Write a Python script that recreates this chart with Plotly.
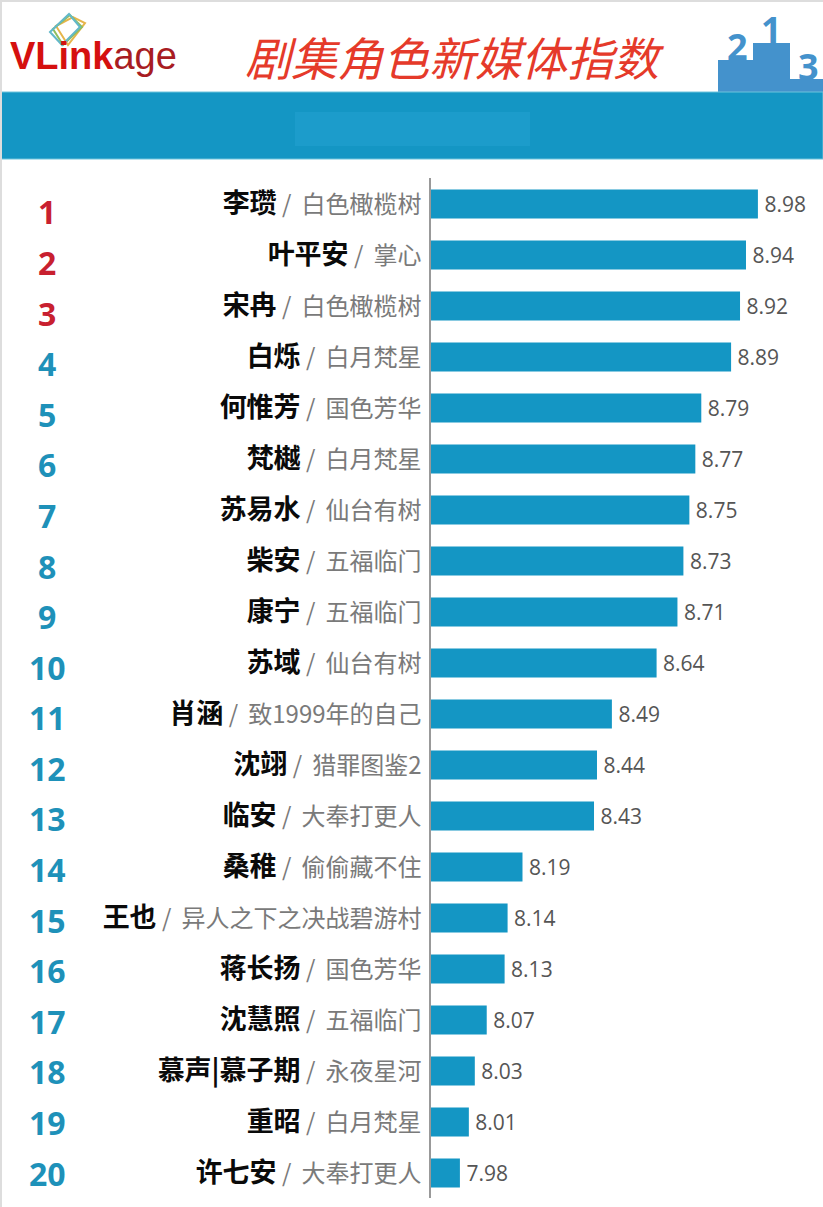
import plotly.graph_objects as go

names = ["李瓒","叶平安","宋冉","白烁","何惟芳","梵樾","苏易水","柴安","康宁","苏域",
         "肖涵","沈翊","临安","桑稚","王也","蒋长扬","沈慧照","慕声|慕子期","重昭","许七安"]
works = ["白色橄榄树","掌心","白色橄榄树","白月梵星","国色芳华","白月梵星","仙台有树","五福临门","五福临门","仙台有树",
         "致1999年的自己","猎罪图鉴2","大奉打更人","偷偷藏不住","异人之下之决战碧游村","国色芳华","五福临门","永夜星河","白月梵星","大奉打更人"]
values = [8.98,8.94,8.92,8.89,8.79,8.77,8.75,8.73,8.71,8.64,8.49,8.44,8.43,8.19,8.14,8.13,8.07,8.03,8.01,7.98]
ranks = list(range(1, 21))
title_text = "剧集角色新媒体指数"

W, H = 823, 1207
BLUE = "#1496C4"
PODIUM = "#4492cc"
CJK = "Noto Sans CJK SC"
px = lambda x: x / W
py = lambda y: 1 - y / H

ticktext = [
    f'<span style="color:#0a0a0a"><b>{n}</b></span>'
    f'<span style="font-size:24px;color:#7a7a7a"> /\u2009 {w}</span>'
    for n, w in zip(names, works)
]

fig = go.Figure(go.Bar(
    x=values, y=list(range(20)), orientation="h",
    marker=dict(color=BLUE, line=dict(width=0)),
    text=[f"\u2009{v:.2f}" for v in values], textposition="outside", cliponaxis=False,
    textfont=dict(family="Open Sans", size=21, color="#555555"),
))

P = dict(xref="paper", yref="paper")
C = dict(xanchor="center", yanchor="middle", showarrow=False)
shapes = [
    dict(type="path",
         path=f"M{px(718)},{py(92)} L{px(718)},{py(60)} L{px(753)},{py(60)} L{px(753)},{py(43)} "
              f"L{px(790)},{py(43)} L{px(790)},{py(79)} L{px(823)},{py(79)} L{px(823)},{py(92)} Z",
         fillcolor=PODIUM, line=dict(width=0), **P),
    dict(type="rect", x0=0, x1=1, y0=py(92), y1=py(159), fillcolor=BLUE, line=dict(color="#6cc3dc", width=1), **P),
    dict(type="rect", x0=px(295), x1=px(530), y0=py(112), y1=py(146), fillcolor="#1c9ccb", line=dict(width=0), **P),
    dict(type="rect", x0=0, x1=px(2), y0=0, y1=1, fillcolor="#dddddd", line=dict(width=0), **P),
    dict(type="rect", x0=0, x1=1, y0=py(2), y1=1, fillcolor="#dddddd", line=dict(width=0), **P),
]
# logo frames
for pts, col in [
    ([(56,26),(73,17),(85,23),(68,45)], "#e6b54a"),
    ([(53,29),(70,15),(82,27),(63,45)], "#8fbe5e"),
    ([(50,32),(69,14),(80,27),(62,45)], "#62b8c9"),
]:
    d = "M" + " L".join(f"{px(a)},{py(b)}" for a, b in pts) + " Z"
    shapes.append(dict(type="path", path=d, fillcolor="rgba(255,255,255,0)", line=dict(color=col, width=2), **P))

annotations = [
    dict(x=px(47), y=py(212 + (r - 1) * 50.58), text=f"<b>{r}</b>",
         font=dict(family="Open Sans", size=32, color="#c8202f" if r <= 3 else "#1e91b9"), **C, **P)
    for r in ranks
]
annotations += [
    dict(x=px(8), y=py(56), xanchor="left", yanchor="middle", showarrow=False,
         text='<b><span style="color:#d5100f">VLink</span></b><span style="color:#a81c22">age</span>',
         font=dict(family="Liberation Sans", size=38), **P),
    dict(x=px(737), y=py(47), text="<b>2</b>", font=dict(family="Open Sans", size=36, color=PODIUM), **C, **P),
    dict(x=px(771), y=py(29), text="<b>1</b>", font=dict(family="Open Sans", size=36, color=PODIUM), **C, **P),
    dict(x=px(808), y=py(66), text="<b>3</b>", font=dict(family="Open Sans", size=36, color=PODIUM), **C, **P),
]

fig.update_layout(
    width=W, height=H, autosize=False, margin=dict(l=0, r=0, t=0, b=0),
    paper_bgcolor="white", plot_bgcolor="white", showlegend=False, bargap=0.43,
    font=dict(family=CJK),
    title=dict(text=f"<i>{title_text}</i>", x=452 / W, y=py(60), xanchor="center", yanchor="middle",
               font=dict(family=CJK, size=46, color="#e53a2a")),
    xaxis=dict(domain=[431 / W, 1], range=[7.883, 7.883 + 392 / 298], visible=False),
    yaxis=dict(domain=[py(1198), py(178)], range=[19.49, -0.51], tickmode="array",
               tickvals=list(range(20)), ticktext=ticktext, ticks="", ticklabelstandoff=2,
               tickfont=dict(family=CJK, size=27),
               showline=True, linecolor="#999999", linewidth=2, showgrid=False, zeroline=False),
    shapes=shapes, annotations=annotations,
)

fig.write_html("out.html", config={"displayModeBar": False},
               post_script="document.body.style.margin='0';")
